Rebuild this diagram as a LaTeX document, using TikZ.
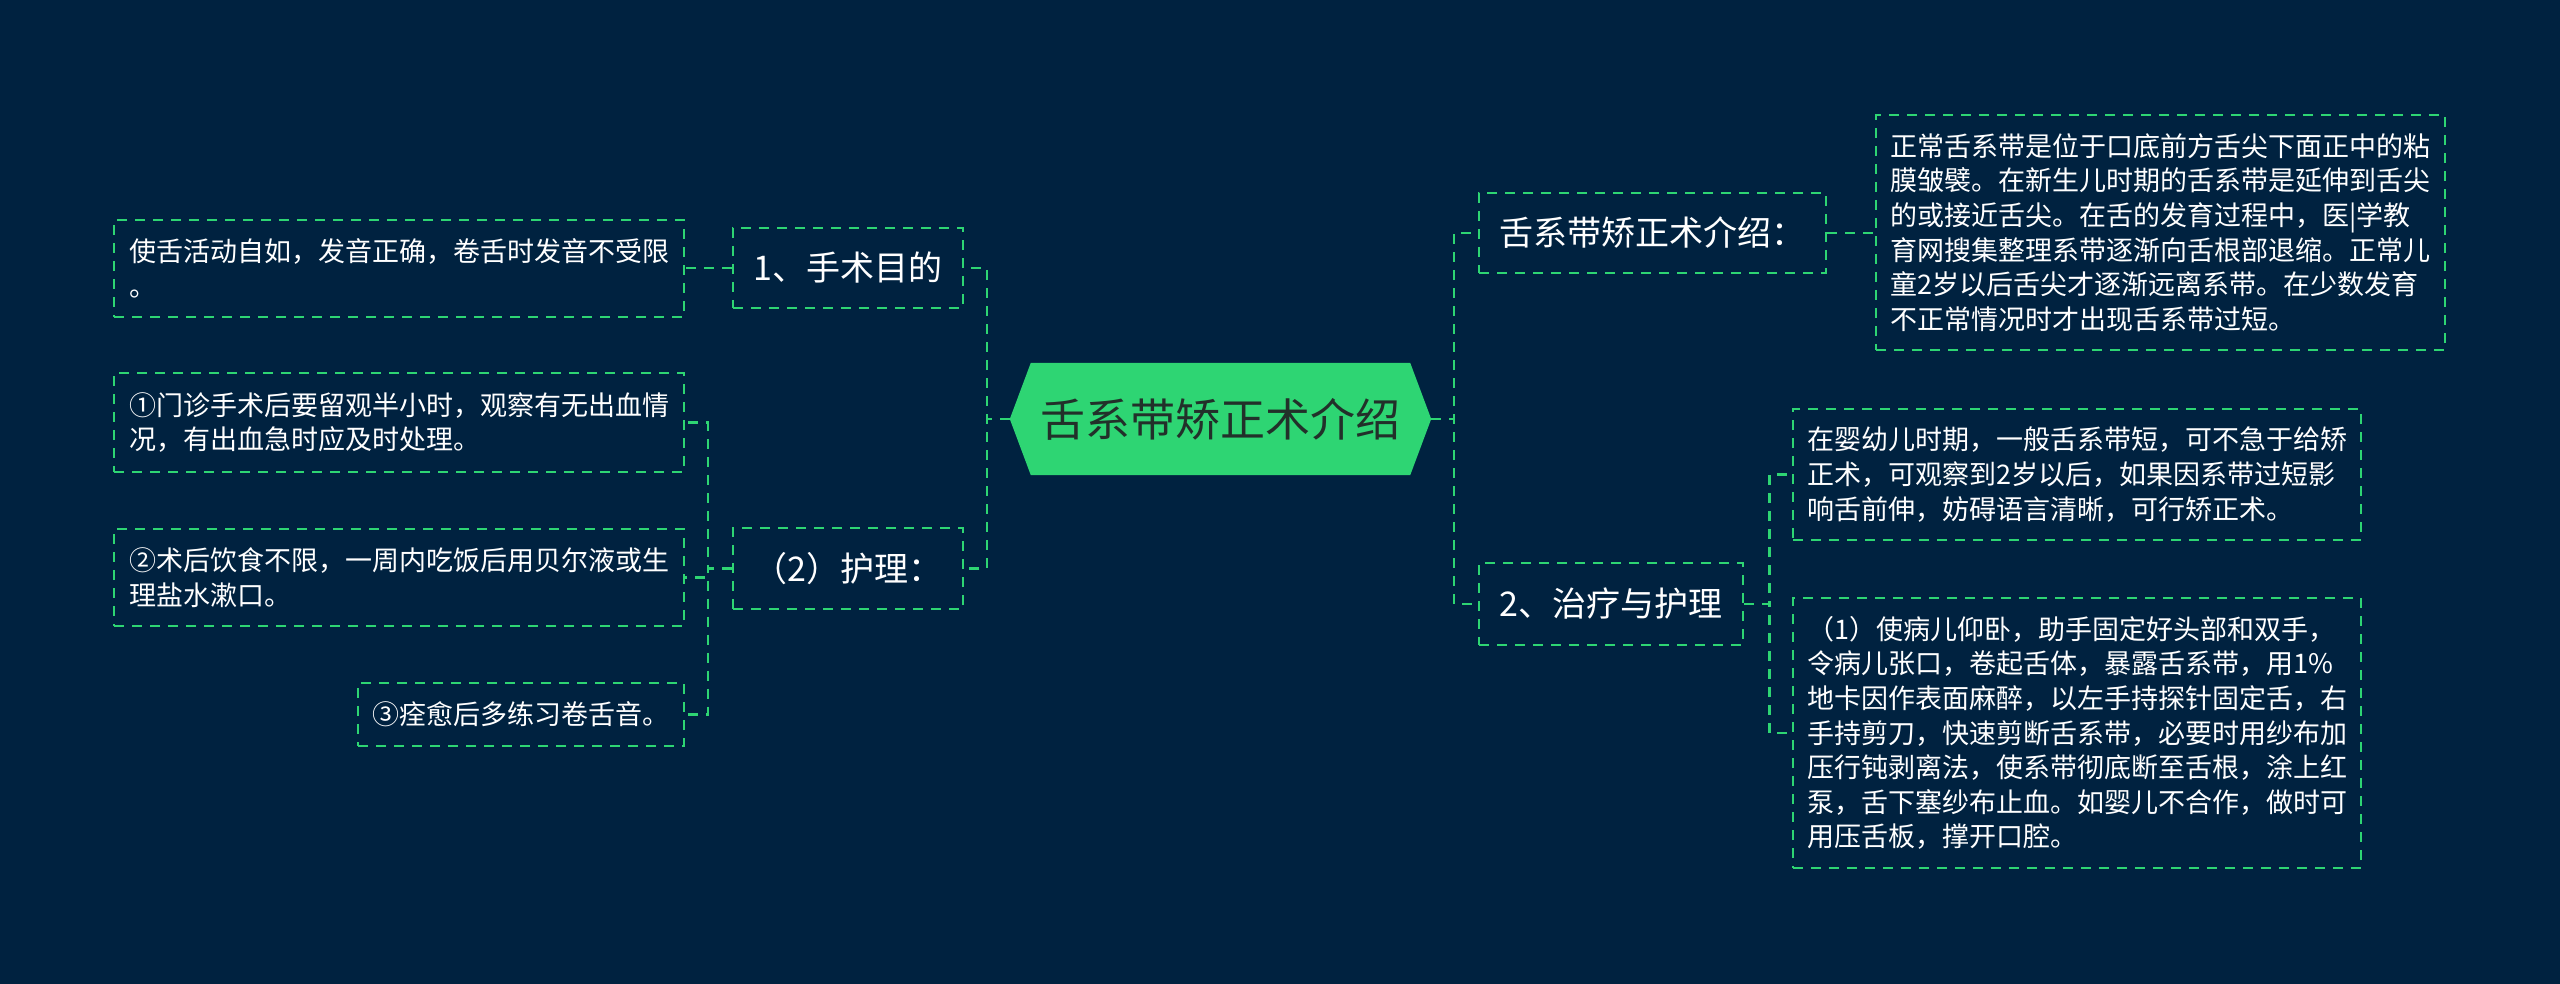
\documentclass[tikz,border=0pt]{standalone}
\usepackage{fontspec}
\setmainfont{Noto Sans CJK SC}
\definecolor{bgc}{HTML}{002240}
\definecolor{grn}{HTML}{2ED573}
\definecolor{ctext}{HTML}{22302A}
\pgfdeclarelayer{bg}
\pgfsetlayers{bg,main}
\begin{document}
\begin{tikzpicture}[x=1pt,y=-1pt,
  link/.style={draw=grn, line width=2.5pt, dash pattern=on 10pt off 8pt},
  box/.style={draw=grn, line width=2.5pt, dash pattern=on 10pt off 8pt, text=white, inner sep=0pt, align=left},
  detail/.style={box, font=\fontsize{27}{34.6}\selectfont},
  topic/.style={box, font=\fontsize{34}{40}\selectfont},
  centerbox/.style={inner sep=0pt, text=ctext, font=\fontsize{45}{50}\selectfont, minimum width=421pt, minimum height=112pt}
]
\useasboundingbox (0,0) rectangle (2560,984);

% centre
\node[centerbox] (c) at (1220.5,419) {舌系带矫正术介绍};

% left side
\node[topic, minimum width=230pt, minimum height=80pt] (n1) at (848,268) {1、手术目的};
\node[topic, minimum width=230pt, minimum height=81pt] (n2) at (848,568.5) {（2）护理：};
\node[detail, minimum width=570pt, minimum height=97pt] (l1) at (399,268.5) {使舌活动自如，发音正确，卷舌时发音不受限\\。};
\node[detail, minimum width=570pt, minimum height=99pt] (l2) at (399,422.5) {①门诊手术后要留观半小时，观察有无出血情\\况，有出血急时应及时处理。};
\node[detail, minimum width=570pt, minimum height=97pt] (l3) at (399,577.5) {②术后饮食不限，一周内吃饭后用贝尔液或生\\理盐水漱口。};
\node[detail, minimum width=326pt, minimum height=63pt] (l4) at (521,714.5) {③痊愈后多练习卷舌音。};

% right side
\node[topic, minimum width=347pt, minimum height=80pt] (r1) at (1652.5,233) {舌系带矫正术介绍：};
\node[detail, minimum width=569pt, minimum height=235pt] (r1d) at (2160.5,232.5) {正常舌系带是位于口底前方舌尖下面正中的粘\\膜皱襞。在新生儿时期的舌系带是延伸到舌尖\\的或接近舌尖。在舌的发育过程中，医|学教\\育网搜集整理系带逐渐向舌根部退缩。正常儿\\童2岁以后舌尖才逐渐远离系带。在少数发育\\不正常情况时才出现舌系带过短。};
\node[topic, minimum width=264pt, minimum height=82pt] (r2) at (1611,604) {2、治疗与护理};
\node[detail, minimum width=568pt, minimum height=131pt] (r2a) at (2077,474.5) {在婴幼儿时期，一般舌系带短，可不急于给矫\\正术，可观察到2岁以后，如果因系带过短影\\响舌前伸，妨碍语言清晰，可行矫正术。};
\node[detail, minimum width=568pt, minimum height=270pt] (r2b) at (2077,733) {（1）使病儿仰卧，助手固定好头部和双手，\\令病儿张口，卷起舌体，暴露舌系带，用1\%\\地卡因作表面麻醉，以左手持探针固定舌，右\\手持剪刀，快速剪断舌系带，必要时用纱布加\\压行钝剥离法，使系带彻底断至舌根，涂上红\\泵，舌下塞纱布止血。如婴儿不合作，做时可\\用压舌板，撑开口腔。};

% connectors
\draw[link] (c.west) -- ++(-23,0) |- (n1.east);
\draw[link] (c.west) -- ++(-23,0) |- (n2.east);
\draw[link] (c.east) -- ++(23,0) |- (r1.west);
\draw[link] (c.east) -- ++(23,0) |- (r2.west);
\draw[link] (n1.west) -- (l1.east |- n1.west);
\draw[link] (n2.west) -- ++(-24,0) |- (l2.east);
\draw[link] (n2.west) -- ++(-24,0) |- (l3.east);
\draw[link] (n2.west) -- ++(-24,0) |- (l4.east);
\draw[link] (r1.east) -- (r1d.west |- r1.east);
\draw[link] (r2.east) -- ++(25,0) |- (r2a.west);
\draw[link] (r2.east) -- ++(25,0) |- (r2b.west);

\begin{pgfonlayer}{bg}
\fill[bgc] (0,0) rectangle (2560,984);
\fill[grn] (c.west) -- ([xshift=21pt]c.north west) -- ([xshift=-21pt]c.north east) -- (c.east) -- ([xshift=-21pt]c.south east) -- ([xshift=21pt]c.south west) -- cycle;
\end{pgfonlayer}
\end{tikzpicture}
\end{document}
